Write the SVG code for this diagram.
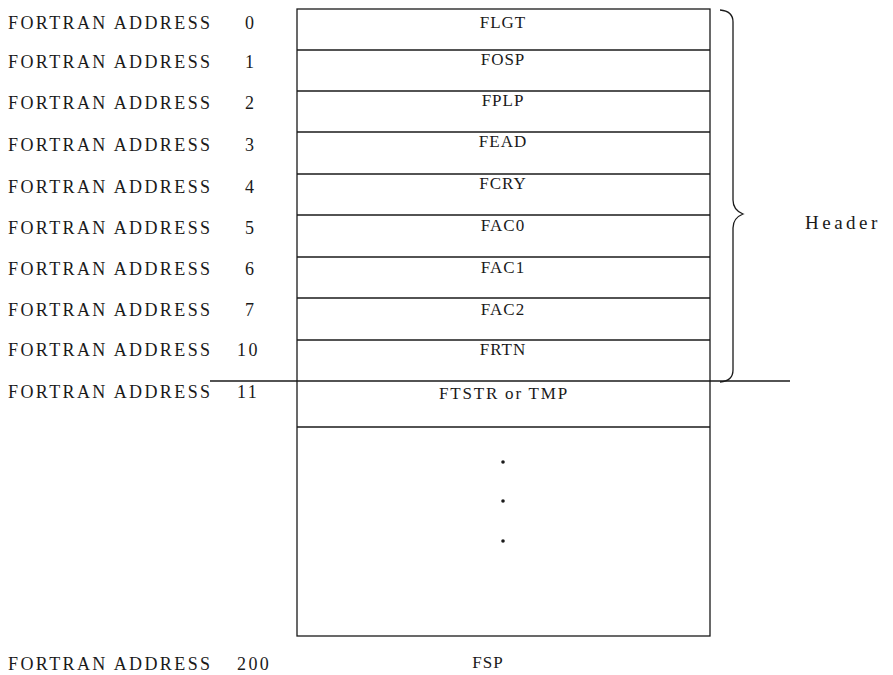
<svg xmlns="http://www.w3.org/2000/svg" width="893" height="675" viewBox="0 0 893 675">
<style>
.lbl{font-family:"Liberation Serif","Times New Roman",serif;font-size:18px;letter-spacing:2.4px;fill:#1a1a1a}
.cell{font-family:"Liberation Serif","Times New Roman",serif;font-size:17px;letter-spacing:1px;fill:#1a1a1a;text-anchor:middle}
.ln{stroke:#1a1a1a;stroke-width:1.3;fill:none}
</style>
<rect width="893" height="675" fill="#ffffff"/>
<g id="labels">
<text class="lbl" x="8" y="29">FORTRAN ADDRESS <tspan x="245">0</tspan></text>
<text class="lbl" x="8" y="68">FORTRAN ADDRESS <tspan x="245">1</tspan></text>
<text class="lbl" x="8" y="109">FORTRAN ADDRESS <tspan x="245">2</tspan></text>
<text class="lbl" x="8" y="151">FORTRAN ADDRESS <tspan x="245">3</tspan></text>
<text class="lbl" x="8" y="193">FORTRAN ADDRESS <tspan x="245">4</tspan></text>
<text class="lbl" x="8" y="234">FORTRAN ADDRESS <tspan x="245">5</tspan></text>
<text class="lbl" x="8" y="275">FORTRAN ADDRESS <tspan x="245">6</tspan></text>
<text class="lbl" x="8" y="316">FORTRAN ADDRESS <tspan x="245">7</tspan></text>
<text class="lbl" x="8" y="356">FORTRAN ADDRESS <tspan x="237">10</tspan></text>
<text class="lbl" x="8" y="398">FORTRAN ADDRESS <tspan x="237">11</tspan></text>
<text class="lbl" x="8" y="670">FORTRAN ADDRESS <tspan x="237">200</tspan></text>
</g>
<g id="memory">
<rect class="ln" x="297" y="9" width="413" height="627"/>
<line class="ln" x1="297" y1="50" x2="710" y2="50"/>
<line class="ln" x1="297" y1="91" x2="710" y2="91"/>
<line class="ln" x1="297" y1="132" x2="710" y2="132"/>
<line class="ln" x1="297" y1="174" x2="710" y2="174"/>
<line class="ln" x1="297" y1="215" x2="710" y2="215"/>
<line class="ln" x1="297" y1="257" x2="710" y2="257"/>
<line class="ln" x1="297" y1="298" x2="710" y2="298"/>
<line class="ln" x1="297" y1="340" x2="710" y2="340"/>
<line class="ln" x1="297" y1="427" x2="710" y2="427"/>
</g>
<g id="cells">
<text class="cell" x="503" y="28">FLGT</text>
<text class="cell" x="503" y="65">FOSP</text>
<text class="cell" x="503" y="106">FPLP</text>
<text class="cell" x="503" y="147">FEAD</text>
<text class="cell" x="503" y="189">FCRY</text>
<text class="cell" x="503" y="231">FAC0</text>
<text class="cell" x="503" y="273">FAC1</text>
<text class="cell" x="503" y="315">FAC2</text>
<text class="cell" x="503" y="355">FRTN</text>
<text class="cell" x="504" y="399" style="letter-spacing:1.8px">FTSTR or TMP</text>
<circle cx="503" cy="462" r="1.8" fill="#1a1a1a"/>
<circle cx="503" cy="501" r="1.8" fill="#1a1a1a"/>
<circle cx="503" cy="541" r="1.8" fill="#1a1a1a"/>
<text class="cell" x="488" y="668">FSP</text>
</g>
<g id="connectors">
<line class="ln" x1="210" y1="381" x2="790" y2="381"/>
<path class="ln" d="M720 10 Q733 11 733 22 L733 200 Q733 210 743 214 Q733 218 733 228 L733 370 Q733 381 720 382"/>
</g>
<g id="header">
<text class="lbl" x="805" y="229" style="font-size:19px;letter-spacing:3.5px">Header</text>
</g>
</svg>
